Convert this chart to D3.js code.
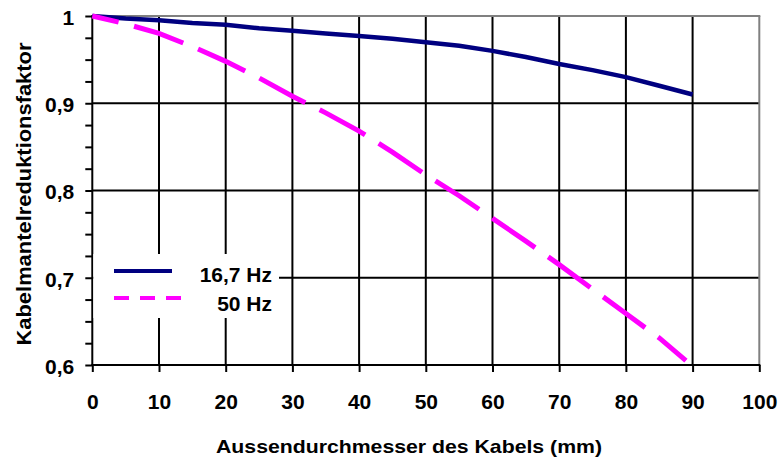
<!DOCTYPE html>
<html><head><meta charset="utf-8">
<script src="https://cdn.jsdelivr.net/npm/d3@7"></script>
<style>
body{margin:0;background:#fff;}
svg{display:block;}
text{font-family:"Liberation Sans",Arial,Helvetica,sans-serif;font-weight:bold;fill:#000;}
</style></head>
<body><svg id="c" width="780" height="459"></svg>
<script>
// Data
const diameters = [0,5,10,15,20,25,30,35,40,45,50,55,60,65,70,75,80,85,90];
const factor167 = [1.000,0.997,0.995,0.992,0.990,0.986,0.983,0.980,0.977,0.974,0.970,0.966,0.960,0.953,0.945,0.938,0.930,0.920,0.910];
const diameters50 = [0,5,10,15,20,25,30,35,40,45,50,55,60,65,70,75,80,85,89];
const factor50 = [1.000,0.991,0.980,0.965,0.948,0.929,0.908,0.889,0.868,0.844,0.818,0.794,0.768,0.742,0.715,0.687,0.659,0.631,0.605];
const seriesNames = ["16,7 Hz","50 Hz"];
const xTicks = [0,10,20,30,40,50,60,70,80,90,100];
const yTicks = [0.6,0.7,0.8,0.9,1];
const yTickLabels = ["0,6","0,7","0,8","0,9","1"];
const xTitle = "Aussendurchmesser des Kabels (mm)";
const yTitle = "Kabelmantelreduktionsfaktor";

const svg = d3.select("#c");
const L = 92.3, R = 759.3, T = 16, B = 365;
const x = d3.scaleLinear().domain([0,100]).range([L,R]);
const y = d3.scaleLinear().domain([0.6,1]).range([B,T]);

// grid
const g = svg.append("g");
g.selectAll(".vg").data(xTicks.filter(d=>d>0&&d<100)).join("line")
  .attr("x1",d=>x(d)).attr("x2",d=>x(d)).attr("y1",T).attr("y2",B)
  .attr("stroke","#000").attr("stroke-width",2);
g.selectAll(".hg").data(yTicks.filter(d=>d>0.6&&d<1)).join("line")
  .attr("x1",L).attr("x2",R).attr("y1",d=>y(d)).attr("y2",d=>y(d))
  .attr("stroke","#000").attr("stroke-width",2);
// top & right border (grey)
g.append("line").attr("x1",L).attr("x2",R+1).attr("y1",y(1)).attr("y2",y(1)).attr("stroke","#808080").attr("stroke-width",2);
g.append("line").attr("x1",R).attr("x2",R).attr("y1",T).attr("y2",B).attr("stroke","#808080").attr("stroke-width",2);

// axes
const minorY = d3.range(0,17).map(i=>0.6+i*0.025);
const ya = svg.append("g").attr("transform",`translate(${L},0)`)
  .call(d3.axisLeft(y).tickValues(minorY).tickSize(7).tickFormat(""));
ya.select(".domain").remove();
ya.selectAll(".tick line").attr("stroke","#000").attr("stroke-width",2);
svg.append("line").attr("x1",L).attr("x2",L).attr("y1",T-1).attr("y2",B+1).attr("stroke","#000").attr("stroke-width",2);

const yl = svg.append("g").attr("transform",`translate(${L},0)`)
  .call(d3.axisLeft(y).tickValues(yTicks).tickSize(0).tickPadding(18)
    .tickFormat((d,i)=>yTickLabels[i]));
yl.select(".domain").remove();
yl.selectAll("text").attr("font-size",21).attr("dy","0.4em")
  .style("font-family","'Liberation Sans',Arial,sans-serif").style("font-weight","bold");

const xa = svg.append("g").attr("transform",`translate(0,${B})`)
  .call(d3.axisBottom(x).tickValues(xTicks).tickSize(7).tickPadding(22).tickFormat(d3.format("d")));
xa.select(".domain").remove();
xa.selectAll(".tick line").attr("stroke","#000").attr("stroke-width",2);
xa.selectAll("text").attr("font-size",21).attr("dy","0.71em")
  .style("font-family","'Liberation Sans',Arial,sans-serif").style("font-weight","bold");
svg.append("line").attr("x1",L-1).attr("x2",R+1).attr("y1",B).attr("y2",B).attr("stroke","#000").attr("stroke-width",2);

// lines
const line = d3.line().x(d=>x(d[0])).y(d=>y(d[1]));
svg.append("path").datum(diameters.map((d,i)=>[d,factor167[i]]))
  .attr("d",line).attr("fill","none").attr("stroke","#000080").attr("stroke-width",4.5);
svg.append("path").datum(diameters50.map((d,i)=>[d,factor50[i]]))
  .attr("d",line).attr("fill","none").attr("stroke","#FF00FF").attr("stroke-width",5)
  .attr("stroke-dasharray","52,16").attr("stroke-dashoffset",25);

// legend
const lg = svg.append("g");
lg.append("rect").attr("x",L+1).attr("y",254).attr("width",279-L-1).attr("height",64).attr("fill","#fff");
lg.append("line").attr("x1",114).attr("x2",172).attr("y1",271).attr("y2",271).attr("stroke","#000080").attr("stroke-width",4);
lg.append("line").attr("x1",114).attr("x2",182).attr("y1",298).attr("y2",298).attr("stroke","#FF00FF").attr("stroke-width",4)
  .attr("stroke-dasharray","15,11");
lg.append("text").attr("x",272).attr("y",282).attr("text-anchor","end").attr("font-size",21).text(seriesNames[0]);
lg.append("text").attr("x",272).attr("y",311).attr("text-anchor","end").attr("font-size",21).text(seriesNames[1]);

// titles
svg.append("text").attr("x",409).attr("y",453).attr("text-anchor","middle").attr("font-size",19)
  .attr("textLength",386).attr("lengthAdjust","spacingAndGlyphs").text(xTitle);
svg.append("text").attr("transform","translate(31,194) rotate(-90)").attr("text-anchor","middle")
  .attr("font-size",21).attr("textLength",303).attr("lengthAdjust","spacingAndGlyphs").text(yTitle);
</script></body></html>
